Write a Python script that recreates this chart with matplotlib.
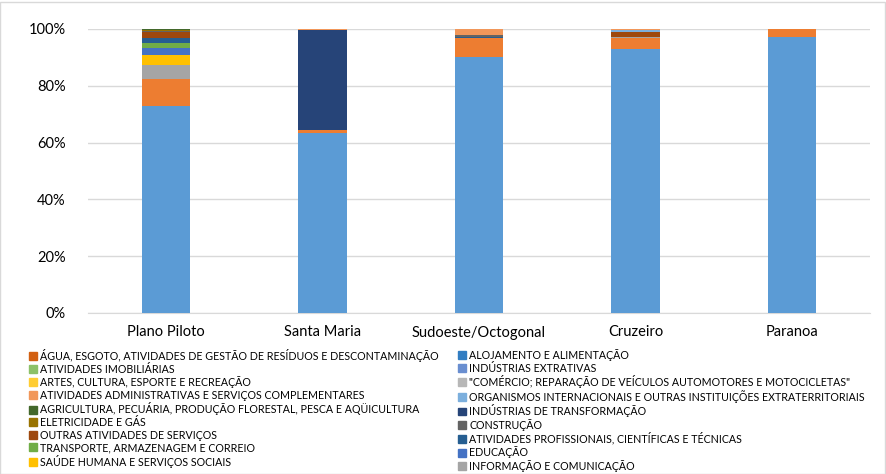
import matplotlib
matplotlib.use("Agg")
import matplotlib.pyplot as plt
import matplotlib.patches as mpatches
import numpy as np

plt.rcParams['font.family'] = ['Lato', 'DejaVu Sans']

categories = ["Plano Piloto", "Santa Maria", "Sudoeste/Octogonal", "Cruzeiro", "Paranoa"]

series_names = [
    "(série 1)",
    "(série 2)",
    "INFORMAÇÃO E COMUNICAÇÃO",
    "SAÚDE HUMANA E SERVIÇOS SOCIAIS",
    "EDUCAÇÃO",
    "TRANSPORTE, ARMAZENAGEM E CORREIO",
    "ATIVIDADES PROFISSIONAIS, CIENTÍFICAS E TÉCNICAS",
    "OUTRAS ATIVIDADES DE SERVIÇOS",
    "CONSTRUÇÃO",
    "ELETRICIDADE E GÁS",
    "INDÚSTRIAS DE TRANSFORMAÇÃO",
    "AGRICULTURA, PECUÁRIA, PRODUÇÃO FLORESTAL, PESCA E AQÜICULTURA",
    "ORGANISMOS INTERNACIONAIS E OUTRAS INSTITUIÇÕES EXTRATERRITORIAIS",
    "ATIVIDADES ADMINISTRATIVAS E SERVIÇOS COMPLEMENTARES",
    "\"COMÉRCIO; REPARAÇÃO DE VEÍCULOS AUTOMOTORES E MOTOCICLETAS\"",
    "ARTES, CULTURA, ESPORTE E RECREAÇÃO",
    "INDÚSTRIAS EXTRATIVAS",
    "ATIVIDADES IMOBILIÁRIAS",
    "ALOJAMENTO E ALIMENTAÇÃO",
    "ÁGUA, ESGOTO, ATIVIDADES DE GESTÃO DE RESÍDUOS E DESCONTAMINAÇÃO",
]

series_colors = [
    "#5B9BD5", "#ED7D31", "#A5A5A5", "#FFC000", "#4472C4", "#70AD47",
    "#255E91", "#9E480E", "#636363", "#997300", "#264478", "#43682B",
    "#7CAFDD", "#F1975A", "#B7B7B7", "#FFCD33", "#698ED0", "#8CC168",
    "#327DC2", "#D26012",
]

# shares (%) per category, in series order 1..20
plano_piloto       = [72.9, 9.5, 4.9, 3.5, 2.6, 1.8, 1.7, 1.9, 0.4, 0.3, 0.2, 0.2, 0.1, 0.0, 0, 0, 0, 0, 0, 0]
santa_maria        = [63.4, 1.0, 0, 0, 0, 0, 0, 0, 0, 0, 35.3, 0, 0, 0.3, 0, 0, 0, 0, 0, 0]
sudoeste_octogonal = [90.0, 6.8, 0, 0, 0, 0, 0.5, 0, 0.6, 0, 0, 0, 0, 2.1, 0, 0, 0, 0, 0, 0]
cruzeiro           = [93.0, 4.0, 0.3, 0, 0, 0, 0, 1.6, 0, 0, 0, 0, 0.8, 0.3, 0, 0, 0, 0, 0, 0]
paranoa            = [97.2, 2.8, 0, 0, 0, 0, 0, 0, 0, 0, 0, 0, 0, 0, 0, 0, 0, 0, 0, 0]

y_ticks = [0, 20, 40, 60, 80, 100]
y_tick_labels = ["0%", "20%", "40%", "60%", "80%", "100%"]

W, H = 887, 474
fig = plt.figure(figsize=(W / 100, H / 100), dpi=100)
ax = fig.add_axes([88 / W, 1 - 313 / H, (870 - 88) / W, (313 - 29) / H])

data = np.array([plano_piloto, santa_maria, sudoeste_octogonal, cruzeiro, paranoa]).T
x = np.arange(len(categories))
bottom = np.zeros(len(categories))
for i in range(data.shape[0]):
    ax.bar(x, data[i], 0.31, bottom=bottom, color=series_colors[i],
           label=series_names[i], zorder=3, linewidth=0)
    bottom += data[i]

ax.set_xlim(-0.5, len(categories) - 0.5)
ax.set_ylim(0, 100)
ax.set_yticks(y_ticks)
ax.set_yticklabels(y_tick_labels)
ax.set_xticks(x)
ax.set_xticklabels(categories)
ax.tick_params(axis='both', length=0, labelsize=10.5, colors='black')
ax.tick_params(axis='y', pad=16)
ax.tick_params(axis='x', pad=9)
ax.yaxis.grid(True, color='#D9D9D9', linewidth=1, zorder=0)
for s in ['top', 'right', 'left']:
    ax.spines[s].set_visible(False)
ax.spines['bottom'].set_color('#D9D9D9')

# legend: visible entries are series 20 down to 3, laid out row-wise in 2 columns
left_idx = [19, 17, 15, 13, 11, 9, 7, 5, 3]
right_idx = [18, 16, 14, 12, 10, 8, 6, 4, 2]
common = dict(frameon=False, fontsize=7.7, handlelength=0.75, handleheight=0.75,
              handletextpad=0.3, labelspacing=0.15, borderpad=0, borderaxespad=0,
              loc='upper left')
fig.legend([mpatches.Patch(color=series_colors[i]) for i in left_idx],
           [series_names[i] for i in left_idx],
           bbox_to_anchor=(29 / W, 1 - 349 / H), **common)
fig.legend([mpatches.Patch(color=series_colors[i]) for i in right_idx],
           [series_names[i] for i in right_idx],
           bbox_to_anchor=(458 / W, 1 - 349 / H), **common)

fig.patches.append(mpatches.Rectangle((0.5 / W, 0.5 / H), 1 - 2 / W, 1 - 2 / H,
                                      transform=fig.transFigure, fill=False,
                                      edgecolor='#D9D9D9', linewidth=1))

fig.savefig("out.png", dpi=100)
